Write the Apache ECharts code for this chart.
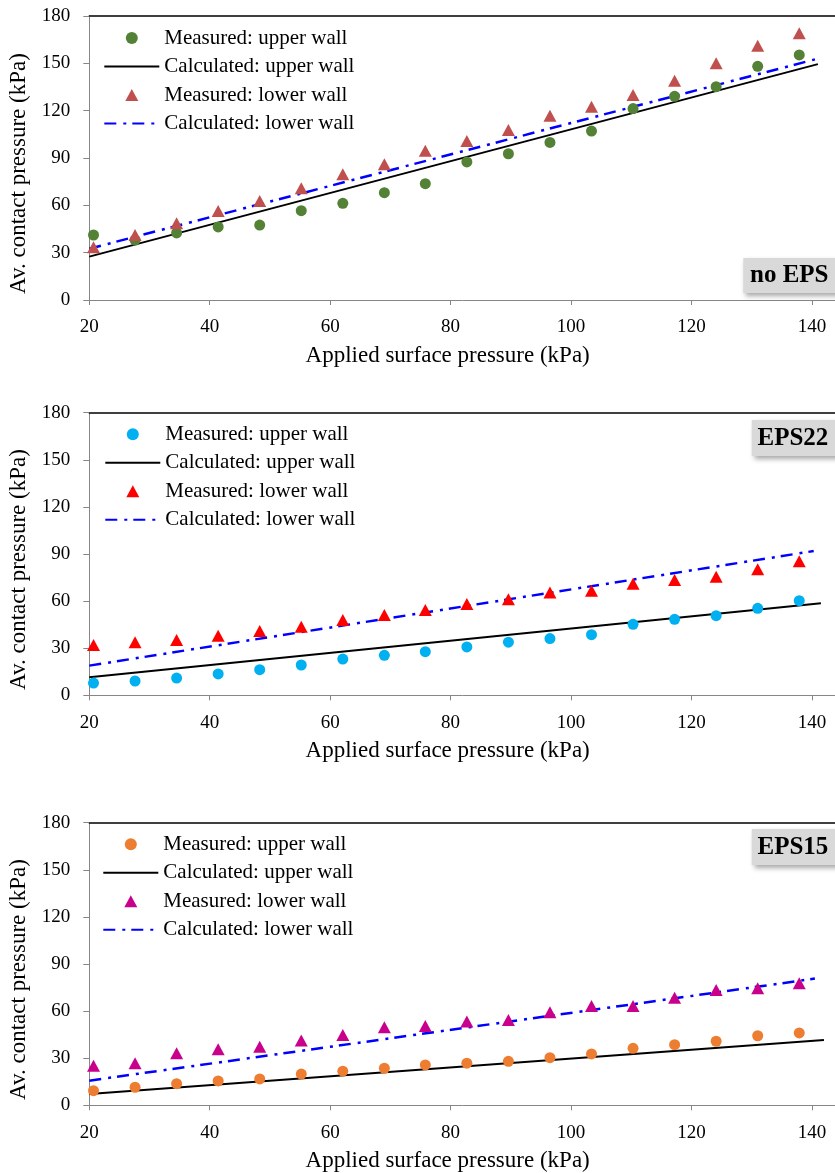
<!DOCTYPE html>
<html><head><meta charset="utf-8">
<script src="https://cdn.jsdelivr.net/npm/echarts@6/dist/echarts.min.js"></script>
<style>html,body{margin:0;padding:0;background:#fff}#c{width:835px;height:1173px}</style>
</head><body><div id="c"></div>
<script>
// Applied surface pressure (kPa) of the measured points (3..20 psi)
const pressure = [20.7, 27.6, 34.5, 41.4, 48.3, 55.2, 62.1, 69.0, 75.8, 82.7, 89.6, 96.5, 103.4, 110.3, 117.2, 124.1, 131.0, 137.9];

// Panel 1: no EPS
const noEpsUpperMeasured = [41.2, 38.0, 42.5, 46.3, 47.5, 56.6, 61.3, 68.0, 73.7, 87.5, 92.7, 99.9, 107.1, 121.3, 129.1, 135.2, 148.1, 155.3];
const noEpsLowerMeasured = [33.4, 41.2, 48.6, 56.4, 62.7, 70.8, 79.7, 86.0, 94.6, 100.8, 107.7, 116.8, 122.5, 129.9, 139.0, 150.0, 161.2, 169.0];
const noEpsUpperCalcX = [20, 141];
const noEpsUpperCalc = [27.5, 149.5];
const noEpsLowerCalcX = [20, 140.5];
const noEpsLowerCalc = [32.5, 152.5];

// Panel 2: EPS22
const eps22UpperMeasured = [7.8, 9.1, 11.0, 13.6, 16.3, 19.3, 23.1, 25.5, 27.8, 30.8, 33.8, 36.1, 38.6, 45.2, 48.4, 50.7, 55.4, 60.3];
const eps22LowerMeasured = [32.0, 33.8, 35.2, 38.0, 41.0, 43.7, 48.0, 51.2, 54.3, 58.2, 61.2, 65.4, 66.6, 71.1, 73.4, 75.5, 80.3, 85.4];
const eps22UpperCalcX = [20, 141.5];
const eps22UpperCalc = [11.5, 58.6];
const eps22LowerCalcX = [20, 140.3];
const eps22LowerCalc = [18.9, 91.9];

// Panel 3: EPS15
const eps15UpperMeasured = [9.3, 11.5, 13.8, 15.5, 16.8, 19.9, 21.7, 23.6, 25.7, 26.8, 28.0, 30.3, 32.7, 36.3, 38.6, 40.8, 44.3, 46.1];
const eps15LowerMeasured = [25.2, 26.8, 33.1, 35.7, 37.3, 41.2, 44.8, 49.7, 50.5, 53.3, 54.3, 59.2, 63.3, 63.3, 68.5, 73.4, 74.5, 77.7];
const eps15UpperCalcX = [20, 142];
const eps15UpperCalc = [7.2, 41.6];
const eps15LowerCalcX = [20, 140.5];
const eps15LowerCalc = [15.7, 80.7];

const panelLabels = ['no EPS', 'EPS22', 'EPS15'];
const legendNames = ['Measured: upper wall', 'Calculated: upper wall', 'Measured: lower wall', 'Calculated: lower wall'];
const xTitle = 'Applied surface pressure (kPa)';
const yTitle = 'Av. contact pressure (kPa)';

const panels = [
  {up: noEpsUpperMeasured, low: noEpsLowerMeasured, ucx: noEpsUpperCalcX, uc: noEpsUpperCalc, lcx: noEpsLowerCalcX, lc: noEpsLowerCalc,
   upColor: '#538135', lowColor: '#c0504d'},
  {up: eps22UpperMeasured, low: eps22LowerMeasured, ucx: eps22UpperCalcX, uc: eps22UpperCalc, lcx: eps22LowerCalcX, lc: eps22LowerCalc,
   upColor: '#00b0f0', lowColor: '#ff0000'},
  {up: eps15UpperMeasured, low: eps15LowerMeasured, ucx: eps15UpperCalcX, uc: eps15UpperCalc, lcx: eps15LowerCalcX, lc: eps15LowerCalc,
   upColor: '#ed7d31', lowColor: '#c8008c'}
];

const FONT = '"Liberation Serif", "Times New Roman", serif';
const gridTops = [16, 412.7, 822.7];
const gridBottoms = [873, 477.7, 67.7];
const legendTops = [27.5, 423.8, 833.8];
const legendLefts = [103.3, 104.3, 102.3];
const boxes = [
  {x: 743.3, y: 258, h: 35, tx: 750, ty: 276},
  {x: 751.7, y: 420, h: 36, tx: 757.5, ty: 438.5},
  {x: 751.7, y: 829, h: 36, tx: 757.5, ty: 847.5}
];
const TRI = 'path://M6.5,0L13,12L0,12Z';

const zip = (xs, ys) => xs.map((x, i) => [x, ys[i]]);
const grid = [], xAxis = [], yAxis = [], series = [], legend = [], graphic = [];

panels.forEach((p, i) => {
  grid.push({left: 89.3, right: -7, top: gridTops[i], bottom: gridBottoms[i], containLabel: false, outerBoundsMode: 'none'});
  xAxis.push({
    type: 'value', gridIndex: i, min: 20, max: 145, interval: 20, position: 'bottom',
    axisLine: {show: true, lineStyle: {color: '#868686', width: 1}},
    axisTick: {show: true, length: 5, lineStyle: {color: '#868686', width: 1}},
    splitLine: {show: false},
    axisLabel: {color: '#000', fontFamily: FONT, fontSize: 19, margin: 18, showMaxLabel: false},
    name: xTitle, nameLocation: 'middle', nameGap: 44,
    nameTextStyle: {color: '#000', fontFamily: FONT, fontSize: 23, padding: [0, 36, 0, 0]}
  });
  xAxis.push({
    type: 'value', gridIndex: i, min: 20, max: 145, position: 'top',
    axisLine: {show: true, lineStyle: {color: '#000', width: 1.5}},
    axisTick: {show: false}, axisLabel: {show: false}, splitLine: {show: false}
  });
  yAxis.push({
    type: 'value', gridIndex: i, min: 0, max: 180, interval: 30,
    axisLine: {show: true, lineStyle: {color: '#868686', width: 1}},
    axisTick: {show: true, length: 6, lineStyle: {color: '#868686', width: 1}},
    splitLine: {show: false},
    axisLabel: {color: '#000', fontFamily: FONT, fontSize: 19, margin: 19},
    name: yTitle, nameLocation: 'middle', nameGap: 54,
    nameTextStyle: {color: '#000', fontFamily: FONT, fontSize: 23, padding: [0, 31, 0, 0]}
  });
  const n = legendNames.map(s => s + '#' + i);
  series.push({
    type: 'line', name: n[1], xAxisIndex: 2 * i, yAxisIndex: i, data: zip(p.ucx, p.uc),
    symbol: 'none', lineStyle: {color: '#000', width: 2}, itemStyle: {color: '#000'}, z: 2, animation: false
  });
  series.push({
    type: 'line', name: n[3], xAxisIndex: 2 * i, yAxisIndex: i, data: zip(p.lcx, p.lc),
    symbol: 'none', lineStyle: {color: '#0000ff', width: 2.5, type: [12, 7, 3, 6]}, itemStyle: {color: '#0000ff'}, z: 2, animation: false
  });
  series.push({
    type: 'scatter', name: n[0], xAxisIndex: 2 * i, yAxisIndex: i, data: zip(pressure, p.up),
    symbol: 'circle', symbolSize: 11, itemStyle: {color: p.upColor, opacity: 1}, z: 3, animation: false
  });
  series.push({
    type: 'scatter', name: n[2], xAxisIndex: 2 * i, yAxisIndex: i, data: zip(pressure, p.low),
    symbol: 'triangle', symbolSize: [13, 12], itemStyle: {color: p.lowColor, opacity: 1}, z: 3, animation: false
  });
  const hidden = {color: 'rgba(0,0,0,0)', borderWidth: 0, opacity: 0};
  legend.push({
    data: [
      {name: n[0], icon: 'circle'},
      {name: n[1], itemStyle: hidden},
      {name: n[2], icon: TRI},
      {name: n[3], itemStyle: hidden}
    ],
    orient: 'vertical', left: legendLefts[i], top: legendTops[i], padding: 0,
    itemWidth: 55, itemHeight: 12, itemGap: 7.5, selectedMode: false,
    formatter: name => name.split('#')[0],
    textStyle: {color: '#000', fontFamily: FONT, fontSize: 21, lineHeight: 21}
  });
  const b = boxes[i];
  graphic.push({
    type: 'rect', shape: {x: b.x, y: b.y, width: 110, height: b.h}, z: 10,
    style: {fill: '#d9d9d9', shadowBlur: 5, shadowColor: 'rgba(0,0,0,0.35)', shadowOffsetX: 2, shadowOffsetY: 3}
  });
  graphic.push({
    type: 'text', x: b.tx, y: b.ty, z: 11,
    style: {text: panelLabels[i], fill: '#000', font: 'bold 25px ' + FONT, verticalAlign: 'middle', align: 'left'}
  });
});

const chart = echarts.init(document.getElementById('c'), null, {renderer: 'canvas'});
chart.setOption({animation: false, backgroundColor: '#fff', grid, xAxis, yAxis, series, legend, graphic});
</script>
</body></html>
